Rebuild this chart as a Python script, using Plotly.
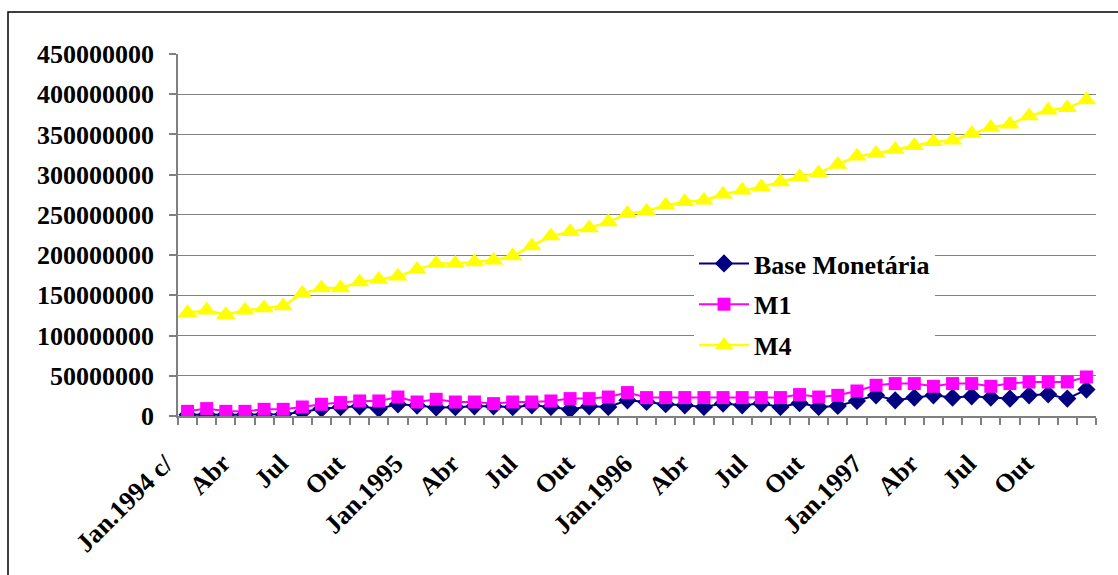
import plotly.graph_objects as go

months = ["Jan.1994 c/", "Fev", "Mar", "Abr", "Mai", "Jun", "Jul", "Ago", "Set", "Out", "Nov", "Dez",
          "Jan.1995", "Fev", "Mar", "Abr", "Mai", "Jun", "Jul", "Ago", "Set", "Out", "Nov", "Dez",
          "Jan.1996", "Fev", "Mar", "Abr", "Mai", "Jun", "Jul", "Ago", "Set", "Out", "Nov", "Dez",
          "Jan.1997", "Fev", "Mar", "Abr", "Mai", "Jun", "Jul", "Ago", "Set", "Out", "Nov", "Dez"]

base_monetaria = [1.5, 2.0, 1.5, 1.8, 2.0, 2.2, 5.0, 9.0, 11.0, 12.0, 9.0, 14.5,
                  13.0, 10.5, 11.0, 12.0, 12.0, 11.0, 13.3, 11.2, 8.0, 12.0, 11.2, 19.5,
                  17.4, 14.6, 13.3, 11.2, 15.4, 13.3, 15.4, 11.2, 16.0, 11.2, 12.5, 18.7,
                  25.7, 19.5, 22.9, 25.7, 22.9, 24.5, 22.9, 21.6, 25.7, 27.0, 21.6, 32.8]
m1 = [5.8, 9.2, 5.8, 5.8, 8.3, 8.3, 11.2, 14.6, 16.7, 18.7, 18.7, 23.6,
      17.4, 20.8, 17.4, 17.4, 15.4, 17.4, 17.4, 18.7, 21.6, 21.6, 23.6, 29.1,
      22.9, 22.9, 22.9, 22.9, 22.9, 22.9, 22.9, 22.9, 26.6, 23.6, 25.7, 31.1,
      38.2, 40.3, 40.3, 36.9, 40.3, 40.3, 36.9, 40.3, 42.3, 42.3, 42.3, 48.5]
m4 = [128.5, 131.5, 126.0, 131.5, 134.3, 136.8, 152.2, 159.2, 159.2, 166.7, 169.6, 173.8,
      182.0, 189.5, 189.5, 191.5, 193.7, 199.0, 211.4, 223.9, 228.9, 233.8, 241.3, 251.7,
      254.6, 262.0, 266.2, 268.3, 275.7, 280.7, 284.8, 291.0, 297.3, 302.2, 312.5, 323.0,
      326.3, 331.3, 335.8, 340.8, 342.9, 351.2, 358.7, 362.8, 372.8, 380.2, 383.1, 392.7]

scale = 1e6
x = list(range(len(months)))
label_idx = list(range(0, len(months), 3))
label_text = [months[i] for i in label_idx]
y_ticks = list(range(0, 450000001, 50000000))

FONT = "Liberation Serif"
FS = 26

fig = go.Figure()
fig.add_trace(go.Scatter(x=x, y=[v * scale for v in base_monetaria], name="Base Monetária",
                         legendgroup="a", mode="lines+markers", line=dict(color="#000080", width=2),
                         marker=dict(symbol="diamond", size=14, color="#000080")))
fig.add_trace(go.Scatter(x=x, y=[v * scale for v in m1], name="M1", legendgroup="b",
                         mode="lines+markers", line=dict(color="#FF00FF", width=2),
                         marker=dict(symbol="square", size=13, color="#FF00FF")))
fig.add_trace(go.Scatter(x=x, y=[v * scale for v in m4], name="M4", legendgroup="c",
                         mode="lines+markers", line=dict(color="#FFFF00", width=2.5),
                         marker=dict(symbol="triangle-up", size=17, color="#FFFF00")))

annotations = []
for i, t in zip(label_idx, label_text):
    annotations.append(dict(x=i - 0.3, y=(416 - 446) / 362, xref="x", yref="paper", text=t,
                            textangle=-45, xanchor="right", yanchor="top", showarrow=False,
                            font=dict(family=FONT, size=FS, color="black", weight="bold")))

fig.update_layout(
    width=1118, height=575,
    margin=dict(l=178, r=22, t=54, b=159),
    paper_bgcolor="white", plot_bgcolor="white",
    font=dict(family=FONT, size=FS, color="black"),
    showlegend=True,
    legend=dict(x=(694 - 178) / 918, y=(416 - 240) / 362, xanchor="left", yanchor="top",
                bgcolor="white", borderwidth=0,
                font=dict(family=FONT, size=FS, color="black", weight="bold"),
                itemwidth=50, tracegroupgap=4),
    xaxis=dict(range=[-0.5, len(months) - 0.5], tickmode="array", tickvals=[], ticks="",
               showticklabels=False, showgrid=False, zeroline=False,
               showline=True, linecolor="#808080", linewidth=1.5,
               minor=dict(tickmode="linear", tick0=-0.5, dtick=1, ticks="outside",
                          ticklen=7, tickcolor="#808080", tickwidth=1.5, showgrid=False)),
    yaxis=dict(range=[0, 450000000], tickmode="array", tickvals=y_ticks,
               ticktext=[str(v) for v in y_ticks], ticks="outside", ticklen=7,
               tickcolor="#808080", tickwidth=1.5, showgrid=True, gridcolor="#808080",
               gridwidth=1.2, zeroline=False, showline=True, linecolor="#808080", linewidth=1.5,
               ticklabelstandoff=10,
               tickfont=dict(family=FONT, size=FS, weight="bold")),
    annotations=annotations,
    shapes=[dict(type="rect", xref="paper", yref="paper",
                 x0=(8 - 178) / 918, x1=(1130 - 178) / 918,
                 y0=(416 - 590) / 362, y1=(416 - 12) / 362,
                 line=dict(color="black", width=1.5), fillcolor="rgba(0,0,0,0)", layer="below")],
)

fig.write_html("out.html")
